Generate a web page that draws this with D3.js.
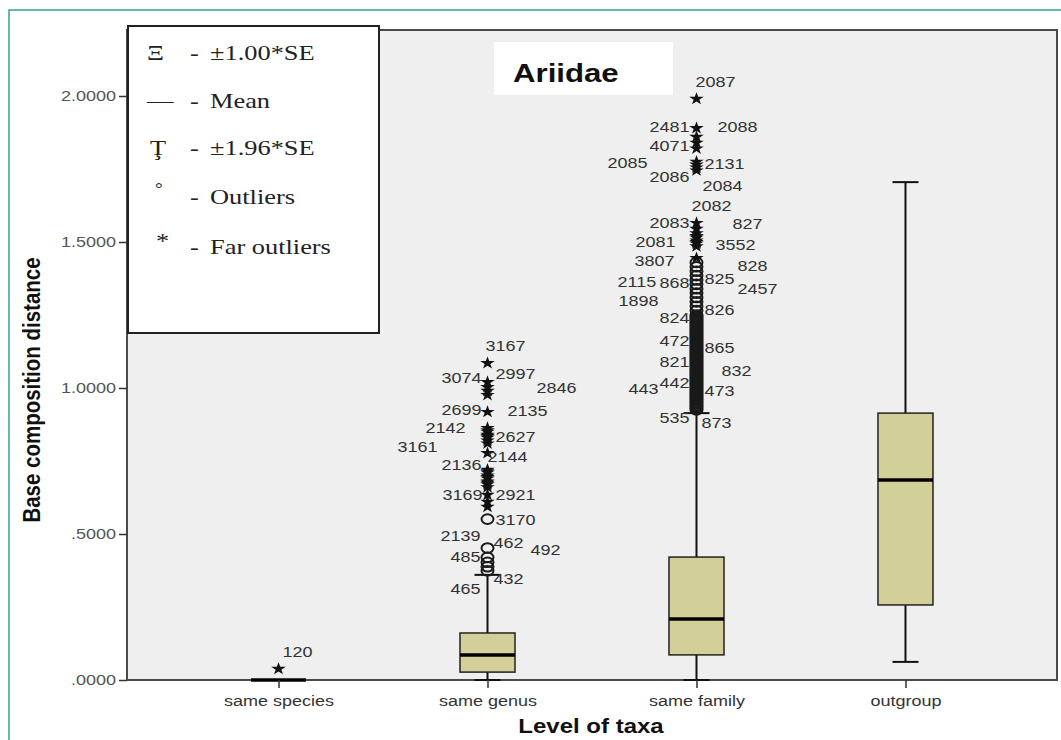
<!DOCTYPE html>
<html>
<head>
<meta charset="utf-8">
<script src="https://cdn.jsdelivr.net/npm/d3@7"></script>
<style>
  body { margin: 0; background: #fff; }
  svg { display: block; }
</style>
</head>
<body>
<div class="chart"></div>
<script>
var categories = ['same species', 'same genus', 'same family', 'outgroup'];

// box statistics per category
var whiskerLow  = [0, 0,     0,     0.062];
var q1          = [0, 0.027, 0.086, 0.257];
var median      = [0, 0.086, 0.209, 0.685];
var q3          = [0, 0.161, 0.421, 0.914];
var whiskerHigh = [0, 0.36,  0.914, 1.705];

var yTicks = [0, 0.5, 1, 1.5, 2];

// outliers (o) and far outliers (*)
var speciesStars = [0.038];
var genusCircles = [0.551, 0.452, 0.42, 0.403, 0.388, 0.374];
var genusStars = [1.085, 1.02, 1.003, 0.99, 0.976, 0.918, 0.863, 0.855, 0.85, 0.84, 0.835, 0.83,
  0.82, 0.81, 0.777, 0.72, 0.715, 0.71, 0.70, 0.695, 0.69, 0.68, 0.675, 0.67, 0.66, 0.634,
  0.61, 0.593];
var familyStars = [1.99, 1.89, 1.86, 1.84, 1.82, 1.775, 1.765, 1.755, 1.745, 1.565, 1.545,
  1.53, 1.52, 1.515, 1.505, 1.50, 1.495, 1.485, 1.445];
var familyCircles = [1.43, 1.415, 1.40, 1.385, 1.37, 1.355, 1.34, 1.325, 1.31, 1.295, 1.28,
  1.265, 1.25, 1.245, 1.24, 1.235, 1.23, 1.225, 1.22, 1.215, 1.21, 1.205, 1.20, 1.195, 1.19,
  1.185, 1.18, 1.175, 1.17, 1.165, 1.16, 1.155, 1.15, 1.145, 1.14, 1.135, 1.13, 1.125, 1.12,
  1.115, 1.11, 1.105, 1.10, 1.095, 1.09, 1.085, 1.08, 1.075, 1.07, 1.065, 1.06, 1.055, 1.05,
  1.045, 1.04, 1.035, 1.03, 1.025, 1.02, 1.015, 1.01, 1.005, 1.00, 0.995, 0.99, 0.985, 0.98,
  0.975, 0.97, 0.965, 0.96, 0.955, 0.95, 0.945, 0.94, 0.935, 0.93, 0.925];

// case labels: [category, text, value, dx]
var outlierLabels = [
  [0, '120', 0.096, 4],
  [1, '3167', 1.144, -2], [1, '3074', 1.034, -46], [1, '2997', 1.051, 8], [1, '2846', 1.0, 49],
  [1, '2699', 0.925, -46], [1, '2135', 0.921, 20], [1, '2142', 0.863, -62], [1, '2627', 0.832, 8],
  [1, '3161', 0.798, -90], [1, '2136', 0.736, -46], [1, '2144', 0.764, 0], [1, '3169', 0.634, -45],
  [1, '2921', 0.634, 8], [1, '3170', 0.551, 8], [1, '2139', 0.493, -47], [1, '462', 0.469, 6],
  [1, '492', 0.445, 43], [1, '485', 0.421, -37], [1, '432', 0.346, 6], [1, '465', 0.312, -37],
  [2, '2087', 2.048, -1], [2, '2481', 1.894, -47], [2, '2088', 1.894, 21], [2, '4071', 1.829, -47],
  [2, '2085', 1.771, -89], [2, '2131', 1.767, 8], [2, '2086', 1.723, -47], [2, '2084', 1.692, 6],
  [2, '2082', 1.623, -5], [2, '2083', 1.568, -47], [2, '827', 1.562, 36], [2, '2081', 1.503, -61],
  [2, '3552', 1.490, 19], [2, '3807', 1.435, -62], [2, '828', 1.418, 41], [2, '2115', 1.366, -79],
  [2, '868', 1.360, -37], [2, '825', 1.373, 8], [2, '2457', 1.342, 41], [2, '1898', 1.301, -78],
  [2, '824', 1.240, -37], [2, '826', 1.267, 8], [2, '472', 1.161, -37], [2, '865', 1.140, 8],
  [2, '821', 1.092, -37], [2, '832', 1.058, 25], [2, '443', 0.997, -68], [2, '442', 1.017, -37],
  [2, '473', 0.990, 8], [2, '535', 0.897, -37], [2, '873', 0.880, 5]
];

var legendSymbols = ['\u039E', '\u2014', '\u0162', '\u00B0', '*'];
var legendLabels = ['\u00B11.00*SE', 'Mean', '\u00B11.96*SE', 'Outliers', 'Far outliers'];

var W = 1061, H = 740;
var SX = 1.2;
var sans = '"Liberation Sans", Arial, sans-serif';
var serif = '"Liberation Serif", "Times New Roman", serif';

var svg = d3.select('.chart').append('svg')
  .attr('width', W).attr('height', H);

// outer teal frame
svg.append('path')
  .attr('d', 'M9,' + H + 'V10H' + W)
  .attr('fill', 'none')
  .attr('stroke', '#3a9f9b')
  .attr('stroke-width', 1.5);

var x = d3.scalePoint().domain(categories).range([127, 1057]).padding(0.725);
var y = d3.scaleLinear().domain([0, 2.226]).range([680, 30]);

function stretched(sel, px, py) {
  return sel.attr('transform', 'translate(' + px + ',' + py + ') scale(' + SX + ',1)');
}

// plot area
svg.append('rect')
  .attr('x', 127).attr('y', 30)
  .attr('width', 1057 - 127).attr('height', 650)
  .attr('fill', '#efefef')
  .attr('stroke', '#4a4a4a')
  .attr('stroke-width', 2);

var boxW = 55, capW = 26;
var idx = d3.range(categories.length);

var boxes = svg.append('g').attr('class', 'boxes');

boxes.selectAll('line.whisker')
  .data(idx).enter().append('line')
  .attr('x1', function(i) { return x(categories[i]); })
  .attr('x2', function(i) { return x(categories[i]); })
  .attr('y1', function(i) { return y(whiskerLow[i]); })
  .attr('y2', function(i) { return y(whiskerHigh[i]); })
  .attr('stroke', '#111').attr('stroke-width', 2);

[whiskerLow, whiskerHigh].forEach(function(arr) {
  boxes.selectAll(null)
    .data(idx).enter().append('line')
    .attr('x1', function(i) { return x(categories[i]) - capW / 2; })
    .attr('x2', function(i) { return x(categories[i]) + capW / 2; })
    .attr('y1', function(i) { return y(arr[i]); })
    .attr('y2', function(i) { return y(arr[i]); })
    .attr('stroke', '#111').attr('stroke-width', 2);
});

boxes.selectAll('rect')
  .data(idx).enter().append('rect')
  .attr('x', function(i) { return x(categories[i]) - boxW / 2; })
  .attr('y', function(i) { return y(q3[i]); })
  .attr('width', boxW)
  .attr('height', function(i) { return y(q1[i]) - y(q3[i]); })
  .attr('fill', '#d3cf99')
  .attr('stroke', '#222').attr('stroke-width', 1.5);

boxes.selectAll('line.median')
  .data(idx).enter().append('line')
  .attr('x1', function(i) { return x(categories[i]) - boxW / 2; })
  .attr('x2', function(i) { return x(categories[i]) + boxW / 2; })
  .attr('y1', function(i) { return y(median[i]); })
  .attr('y2', function(i) { return y(median[i]); })
  .attr('stroke', '#000').attr('stroke-width', 3.5);

// outliers
var circles = [].concat(
  genusCircles.map(function(v) { return { c: 1, v: v }; }),
  familyCircles.map(function(v) { return { c: 2, v: v }; })
);
var stars = [].concat(
  speciesStars.map(function(v) { return { c: 0, v: v }; }),
  genusStars.map(function(v) { return { c: 1, v: v }; }),
  familyStars.map(function(v) { return { c: 2, v: v }; })
);

svg.append('g').selectAll('ellipse')
  .data(circles).enter().append('ellipse')
  .attr('cx', function(d) { return x(categories[d.c]); })
  .attr('cy', function(d) { return y(d.v); })
  .attr('rx', 6).attr('ry', 4.8)
  .attr('fill', 'none')
  .attr('stroke', '#1a1a1a').attr('stroke-width', 2);

var star = d3.symbol().type(d3.symbolStar).size(50);
svg.append('g').selectAll('path')
  .data(stars).enter().append('path')
  .attr('d', star)
  .attr('transform', function(d) {
    return 'translate(' + x(categories[d.c]) + ',' + y(d.v) + ') scale(1.15,1)';
  })
  .attr('fill', '#111');

svg.append('g').selectAll('text')
  .data(outlierLabels).enter().append('text')
  .each(function(d) {
    stretched(d3.select(this), x(categories[d[0]]) + d[3], y(d[2]));
  })
  .attr('dy', '0.36em')
  .attr('font-family', sans)
  .attr('font-size', 15)
  .attr('fill', '#333')
  .text(function(d) { return d[1]; });

// axes
var fmt = function(d) { return d3.format('.4f')(d).replace(/^0/, ''); };
var yAxis = svg.append('g')
  .attr('transform', 'translate(127,0)')
  .call(d3.axisLeft(y).tickValues(yTicks).tickSize(8).tickFormat(fmt));
yAxis.select('.domain').remove();
yAxis.selectAll('line').attr('stroke', '#333').attr('stroke-width', 1.5);
yAxis.selectAll('text')
  .attr('x', -11 / SX)
  .attr('transform', 'scale(' + SX + ',1)')
  .attr('font-family', sans)
  .attr('font-size', 15)
  .attr('fill', '#555');

var xAxis = svg.append('g')
  .attr('transform', 'translate(0,680)')
  .call(d3.axisBottom(x).tickSize(8).tickPadding(7));
xAxis.select('.domain').remove();
xAxis.selectAll('line').attr('stroke', '#333').attr('stroke-width', 1.5);
xAxis.selectAll('text')
  .attr('transform', 'scale(' + SX + ',1)')
  .attr('font-family', sans)
  .attr('font-size', 15)
  .attr('fill', '#333');

// titles
stretched(svg.append('text'), 591, 733)
  .attr('text-anchor', 'middle')
  .attr('font-family', sans)
  .attr('font-weight', 'bold')
  .attr('font-size', 20)
  .attr('fill', '#111')
  .text('Level of taxa');

svg.append('text')
  .attr('transform', 'translate(40,390) rotate(-90) scale(1,' + SX + ')')
  .attr('text-anchor', 'middle')
  .attr('font-family', sans)
  .attr('font-weight', 'bold')
  .attr('font-size', 20.5)
  .attr('fill', '#111')
  .text('Base composition distance');

// Ariidae label
svg.append('rect')
  .attr('x', 494).attr('y', 42)
  .attr('width', 179).attr('height', 53)
  .attr('fill', '#fff');
stretched(svg.append('text'), 513, 82)
  .attr('font-family', sans)
  .attr('font-weight', 'bold')
  .attr('font-size', 26)
  .attr('fill', '#111')
  .text('Ariidae');

// legend
var legend = svg.append('g').attr('class', 'legend');
legend.append('rect')
  .attr('x', 128).attr('y', 26)
  .attr('width', 251).attr('height', 307)
  .attr('fill', '#fff')
  .attr('stroke', '#222').attr('stroke-width', 2);

var rowY = [52, 100, 147, 196, 246];
var symX = [147, 147, 150, 155, 156];
var symDy = [0, 0, 0, -8, -6];

legend.selectAll('text.sym')
  .data(legendSymbols).enter().append('text')
  .each(function(d, i) { stretched(d3.select(this), symX[i], rowY[i] + symDy[i]); })
  .attr('dy', '0.35em')
  .attr('font-family', serif)
  .attr('font-size', function(d, i) { return i === 3 ? 16 : 22; })
  .attr('fill', '#222')
  .text(function(d) { return d; });

legend.selectAll('text.dash')
  .data(legendLabels).enter().append('text')
  .each(function(d, i) { stretched(d3.select(this), 190, rowY[i]); })
  .attr('dy', '0.35em')
  .attr('font-family', serif)
  .attr('font-size', 22)
  .attr('fill', '#222')
  .text('-');

legend.selectAll('text.lab')
  .data(legendLabels).enter().append('text')
  .each(function(d, i) { stretched(d3.select(this), 210, rowY[i]); })
  .attr('dy', '0.35em')
  .attr('font-family', serif)
  .attr('font-size', 22)
  .attr('fill', '#222')
  .text(function(d) { return d; });
</script>
</body>
</html>
